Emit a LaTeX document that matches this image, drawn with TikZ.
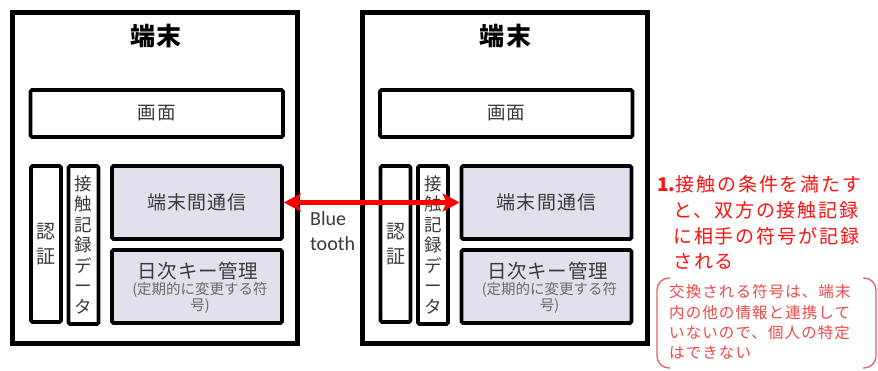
\documentclass[tikz,border=0pt]{standalone}
\usepackage{fontspec}
\setmainfont{Noto Sans CJK JP}[LetterSpace=6]
\newfontfamily\calfont{Carlito}
\usetikzlibrary{arrows.meta}
\definecolor{lav}{HTML}{E4DFEC}
\definecolor{txtg}{HTML}{3A3A3A}
\definecolor{subg}{HTML}{6A6A6A}
\definecolor{rtxt}{HTML}{FF1010}
\definecolor{ptxt}{HTML}{F04848}
\definecolor{pline}{HTML}{E8606A}
\newcommand\fs[2]{\fontsize{#1}{#2}\selectfont}
\newcommand\ls[1]{\addfontfeature{LetterSpace=#1}}
\begin{document}
\begin{tikzpicture}[x=1pt,y=-1pt,
  outerbox/.style={draw=black,line width=5pt,minimum width=285pt,minimum height=331.5pt,inner sep=0pt},
  plainbox/.style={draw=black,line width=3.8pt,rounded corners=1.5pt,inner sep=0pt,align=center,text=txtg},
  shadedbox/.style={plainbox,fill=lav},
  redline/.style={text=rtxt,inner sep=0pt,anchor=base west,font=\fs{19}{22}\ls{10}},
  pinkline/.style={text=ptxt,inner sep=0pt,anchor=base west,font=\fs{15.5}{18}\ls{7}},
  redarrow/.style={draw=red,line width=4.5pt,{Stealth[length=17pt,width=18pt,inset=4pt]}-{Stealth[length=17pt,width=18pt,inset=4pt]}},
  ]
\useasboundingbox (0,0) rectangle (878,370);
\foreach \p/\dx in {l/0,r/349.5}{
 \begin{scope}[xshift=\dx pt]
  \node[outerbox] (\p out) at (155,177.75) {};
  \node[inner sep=0pt,font=\fs{25}{27}\bfseries\ls{6}] (\p title) at (156,36) {端末};
  \node[plainbox,minimum width=252.5pt,minimum height=47pt,font=\fs{18.5}{20}\ls{8}] (\p scr) at (156.75,113.5) {画面};
  \node[plainbox,minimum width=30pt,minimum height=156pt,font=\fs{19}{25}] (\p auth) at (46,244) {認\\証};
  \node[plainbox,minimum width=30pt,minimum height=158pt,font=\fs{17.5}{20.5}] (\p rec) at (83.5,245) {接\\触\\記\\録\\デ\\ー\\タ};
  \node[shadedbox,minimum width=170pt,minimum height=73pt,font=\fs{19}{20}\ls{6}] (\p comm) at (197,202.5) {端末間通信};
  \node[shadedbox,minimum width=170pt,minimum height=73pt] (\p key) at (197,286.5) {};
  \node[inner sep=0pt,text=txtg,font=\fs{19.5}{22}\ls{4}] (\p keyt) at (198,271.5) {日次キー管理};
  \node[inner sep=0pt,text=subg,align=center,font=\fs{14.5}{14.5}\ls{0}] (\p keys) at (200,298) {(定期的に変更する符\\号)};
 \end{scope}
}
\draw[redarrow] (lcomm.east) -- (rcomm.west);
\node[inner sep=0pt,anchor=base west,text=txtg,font=\calfont\fs{20}{24}] (bt1) at (310,225) {Blue};
\node[inner sep=0pt,anchor=base west,text=txtg,font=\calfont\fs{20}{24}] (bt2) at (310,250) {tooth};
\node[redline] (red1) at (657,191.5) {{\bfseries\ls{0}1.}接触の条件を満たす};
\node[redline] (red2) at (673,217) {と、双方の接触記録};
\node[redline] (red3) at (673,243) {に相手の符号が記録};
\node[redline] (red4) at (673,268.5) {される};
\node[pinkline] (pk1) at (669,297.5) {交換される符号は、端末};
\node[pinkline] (pk2) at (669,318) {内の他の情報と連携して};
\node[pinkline] (pk3) at (669,338.5) {いないので、個人の特定};
\node[pinkline] (pk4) at (669,358.5) {はできない};
\draw[pline,line width=1.3pt,rounded corners=12pt] (670,278) -- (657,278) -- (657,368) -- (670,368);
\draw[pline,line width=1.3pt,rounded corners=12pt] (863,278) -- (876,278) -- (876,368) -- (863,368);
\end{tikzpicture}
\end{document}
